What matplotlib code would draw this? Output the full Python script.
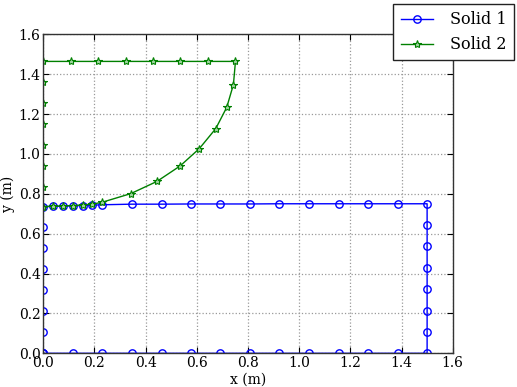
import matplotlib
matplotlib.use("Agg")
import matplotlib.pyplot as plt

# Solid 1 outline (closed loop: bottom -> right -> top -> left)
solid1_x = [0.0, 0.115, 0.231, 0.346, 0.462, 0.577, 0.692, 0.808, 0.923, 1.038, 1.154, 1.269, 1.385, 1.5,
            1.5, 1.5, 1.5, 1.5, 1.5, 1.5, 1.5,
            1.385, 1.269, 1.154, 1.038, 0.923, 0.808, 0.692, 0.577, 0.462, 0.346, 0.231,
            0.192, 0.154, 0.115, 0.077, 0.038, 0.0,
            0.0, 0.0, 0.0, 0.0, 0.0, 0.0, 0.0, 0.0]
solid1_y = [0.0, 0.0, 0.0, 0.0, 0.0, 0.0, 0.0, 0.0, 0.0, 0.0, 0.0, 0.0, 0.0, 0.0,
            0.107, 0.214, 0.321, 0.429, 0.536, 0.643, 0.75,
            0.75, 0.75, 0.75, 0.75, 0.75, 0.749, 0.749, 0.749, 0.748, 0.748, 0.745,
            0.743, 0.741, 0.740, 0.738, 0.737, 0.736,
            0.631, 0.526, 0.421, 0.316, 0.210, 0.105, 0.0, 0.0]

# Solid 2 outline (closed loop: bottom/curve -> top -> left)
solid2_x = [0.0, 0.038, 0.077, 0.115, 0.154, 0.192, 0.231,
            0.342, 0.444, 0.535, 0.610, 0.674, 0.717, 0.743, 0.751,
            0.643, 0.536, 0.429, 0.322, 0.215, 0.108, 0.0,
            0.0, 0.0, 0.0, 0.0, 0.0, 0.0, 0.0]
solid2_y = [0.736, 0.737, 0.739, 0.741, 0.744, 0.748, 0.758,
            0.801, 0.862, 0.940, 1.027, 1.127, 1.234, 1.348, 1.464,
            1.464, 1.464, 1.464, 1.464, 1.464, 1.464, 1.464,
            1.359, 1.254, 1.149, 1.045, 0.940, 0.835, 0.736]

xticks = [0.0, 0.2, 0.4, 0.6, 0.8, 1.0, 1.2, 1.4, 1.6]
yticks = [0.0, 0.2, 0.4, 0.6, 0.8, 1.0, 1.2, 1.4, 1.6]

plt.rcParams['font.family'] = ['DejaVu Serif']
plt.rcParams['xtick.direction'] = 'in'
plt.rcParams['ytick.direction'] = 'in'

fig = plt.figure(figsize=(5.17, 3.87), dpi=100)
ax = fig.add_axes([43.3/517, 1 - 353.3/387, (452.7-43.3)/517, (353.3-34.3)/387])

ax.plot(solid1_x, solid1_y, color='#0000ff', lw=1.0, marker='o', ms=5.3, mfc='none',
        mec='#0000ff', mew=1.0, label='Solid 1')
ax.plot(solid2_x, solid2_y, color='#008000', lw=1.0, marker='*', ms=6.0, mfc='#9fd39f',
        mec='#008000', mew=0.8, label='Solid 2')

ax.set_xlim(0, 1.6)
ax.set_ylim(0, 1.6)
ax.set_xticks(xticks)
ax.set_yticks(yticks)
ax.set_xticklabels([f"{t:.1f}" for t in xticks])
ax.set_yticklabels([f"{t:.1f}" for t in yticks])
ax.tick_params(labelsize=10, top=True, right=True, length=4, width=0.8)
ax.tick_params(axis='x', pad=2.2)
ax.tick_params(axis='y', pad=1.9)
ax.grid(True, color='#999999', linestyle=':', linewidth=0.9)
for s in ax.spines.values():
    s.set_linewidth(1.0)
    s.set_color('#333333')

ax.set_xlabel('x (m)', fontsize=10, labelpad=1.5)
ax.set_ylabel('y (m)', fontsize=10, labelpad=2.5)

leg = ax.legend(loc='upper right', bbox_to_anchor=(514/517, 1 - 4/387),
                bbox_transform=fig.transFigure, fontsize=11.5, fancybox=False,
                framealpha=1, edgecolor='#222222', handlelength=2.0,
                borderpad=0.45, labelspacing=0.5, handletextpad=1.1,
                borderaxespad=0)
leg.get_frame().set_linewidth(1.0)

fig.savefig('out.png', dpi=100)
